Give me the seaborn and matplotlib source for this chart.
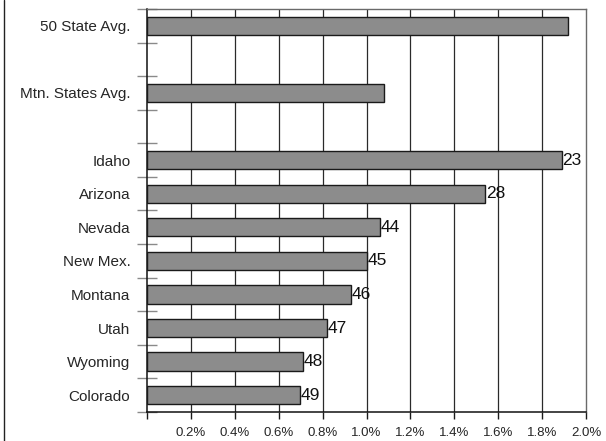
import matplotlib
matplotlib.use("Agg")
import matplotlib.pyplot as plt
from matplotlib.lines import Line2D
import numpy as np
import pandas as pd
import seaborn as sns

# Row order, including two empty spacer rows
rows = ["50 State Avg.", "", "Mtn. States Avg.", " ", "Idaho", "Arizona",
        "Nevada", "New Mex.", "Montana", "Utah", "Wyoming", "Colorado"]

# Bars that carry a value (percent)
names = ["50 State Avg.", "Mtn. States Avg.", "Idaho", "Arizona", "Nevada",
         "New Mex.", "Montana", "Utah", "Wyoming", "Colorado"]
values = [1.92, 1.08, 1.89, 1.54, 1.06, 1.00, 0.93, 0.82, 0.71, 0.695]
ranks = ["", "", "23", "28", "44", "45", "46", "47", "48", "49"]

x_ticks = [0.0, 0.2, 0.4, 0.6, 0.8, 1.0, 1.2, 1.4, 1.6, 1.8, 2.0]
x_labels = ["", "0.2%", "0.4%", "0.6%", "0.8%", "1.0%", "1.2%", "1.4%",
            "1.6%", "1.8%", "2.0%"]

sns.set_theme(style="white")
plt.rcParams["font.family"] = ["Liberation Sans", "DejaVu Sans"]

df = pd.DataFrame({"name": names, "value": values})

fig = plt.figure(figsize=(6.06, 4.41), dpi=100)
ax = fig.add_axes([147 / 606, 1 - 412 / 441, 439 / 606, 403 / 441])

sns.barplot(data=df, x="value", y="name", order=rows, orient="h",
            color="#8c8c8c", saturation=1, width=0.545,
            edgecolor="#1a1a1a", linewidth=1.0, ax=ax, zorder=3)

ax.set_xlim(0, 2.0)
ax.set_ylim(len(rows) - 0.5, -0.5)
ax.set_xlabel("")
ax.set_ylabel("")

# Vertical grid lines
ax.set_xticks(x_ticks)
ax.set_xticklabels(x_labels, fontsize=9.5)
for xv in x_ticks[1:-1]:
    ax.axvline(xv, color="#2a2a2a", lw=0.9, zorder=1)

# Category labels centered in rows, tick marks at row boundaries
ax.set_yticks(np.arange(len(rows)))
ax.set_yticklabels(rows, fontsize=11)
ax.tick_params(axis="y", which="major", left=True, length=0, pad=12)
ax.set_yticks(np.arange(len(rows) + 1) - 0.5, minor=True)
ax.tick_params(axis="y", which="minor", left=True, length=14,
               direction="inout", color="#8a8a8a", width=1)
ax.tick_params(axis="x", which="major", bottom=True, length=5,
               direction="out", color="#1a1a1a", width=1, pad=6)

for side in ["left", "bottom"]:
    ax.spines[side].set_color("#111111")
    ax.spines[side].set_linewidth(1.1)
for side in ["top", "right"]:
    ax.spines[side].set_color("#6a6a6a")
    ax.spines[side].set_linewidth(1.0)
    ax.spines[side].set_visible(True)

# Rank numbers at the end of each bar
for n, v, r in zip(names, values, ranks):
    if r:
        ax.text(v + 0.003, rows.index(n), r, ha="left", va="center",
                fontsize=12.5, color="#111111", zorder=4)

# Frame line along the left edge of the figure
fig.add_artist(Line2D([3.5 / 606, 3.5 / 606], [0, 1], transform=fig.transFigure,
                      color="#222222", lw=1.0))

fig.savefig("out.png", dpi=100)
